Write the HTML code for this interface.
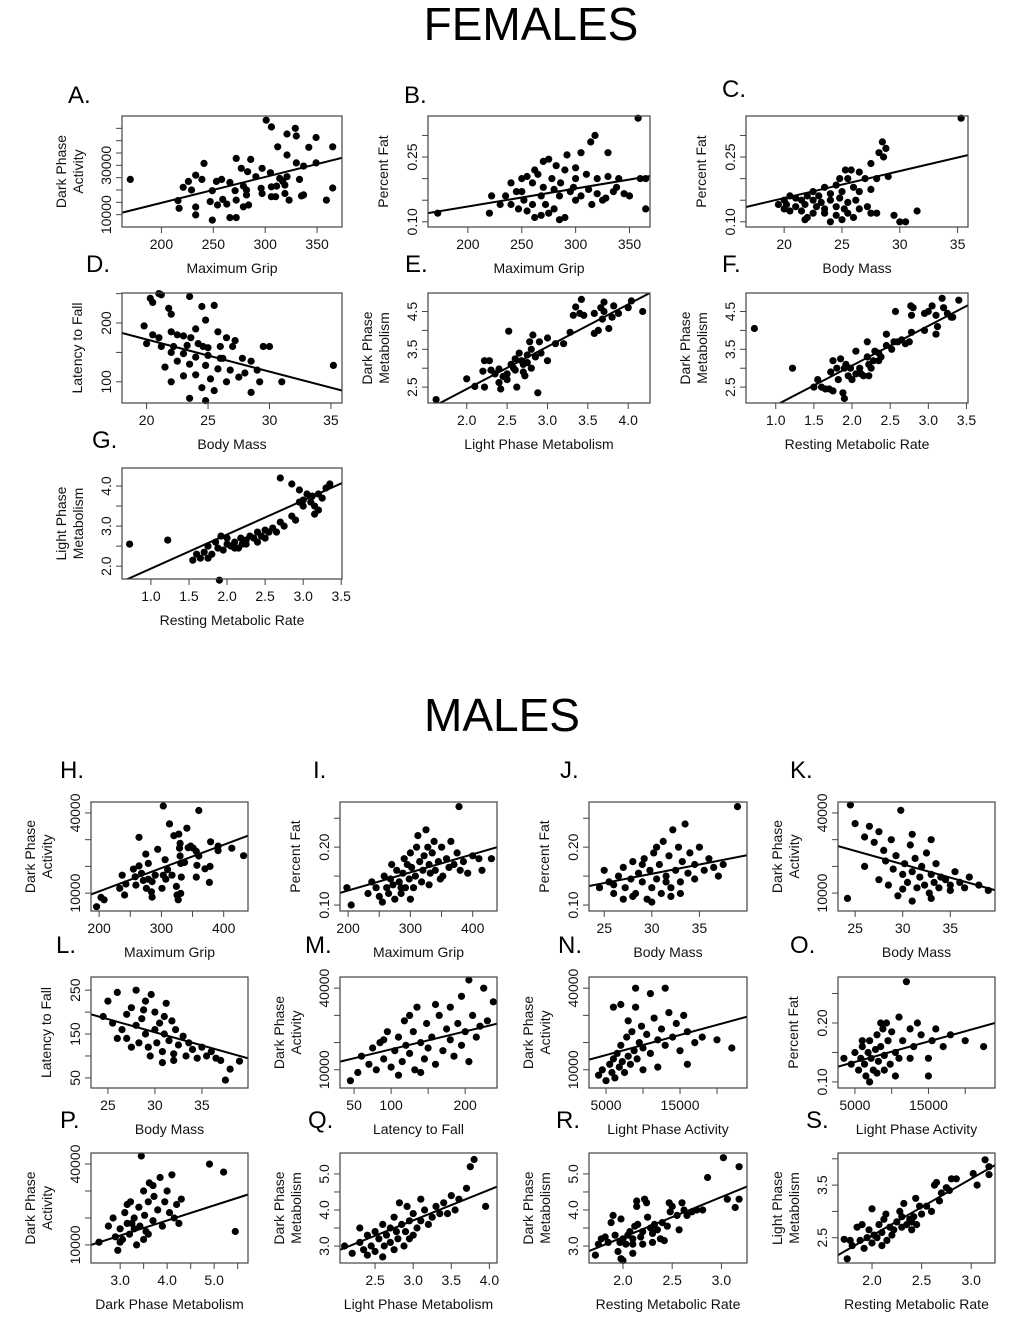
<!DOCTYPE html>
<html><head><meta charset="utf-8"><style>
html,body{margin:0;padding:0;background:#fff}
svg{display:block;font-family:"Liberation Sans",Arial,sans-serif}
</style></head><body>
<svg id="fig" width="1020" height="1330" viewBox="0 0 1020 1330" xmlns="http://www.w3.org/2000/svg">
<text x="531" y="40" font-size="46" text-anchor="middle">FEMALES</text>
<text x="502" y="731" font-size="46" text-anchor="middle">MALES</text>
</svg>
<script>
// ---- data ----
const ptsA=[[170,24300],[301,48300],[306,45600],[329,45000],[321,42700],[330,41900],[349,41300],[342,37300],[365,37500],[312,37500],[321,34200],[330,31000],[337,29700],[349,31000],[297,28800],[305,27000],[314,24700],[311,21600],[333,24300],[272,32800],[286,32400],[277,28800],[283,27400],[241,30800],[233,26000],[239,24300],[226,23500],[221,21100],[229,20000],[216,15700],[217,12600],[233,13100],[233,9900],[247,15300],[253,23500],[258,24300],[249,19700],[254,13900],[259,16200],[263,14300],[266,23100],[271,19700],[272,15900],[279,21600],[282,20000],[282,18000],[279,13200],[284,13900],[266,8800],[272,8800],[249,7800],[296,20700],[297,18600],[306,21300],[306,17300],[310,17300],[319,22000],[319,18600],[323,15900],[335,17600],[337,18000],[359,15900],[365,20800],[321,25400],[317,23500],[291,25400]];
const ptsB=[[172,0.12],[358,0.34],[318,0.30],[314,0.285],[305,0.26],[330,0.26],[292,0.255],[275,0.245],[270,0.24],[282,0.23],[290,0.22],[300,0.225],[262,0.22],[265,0.21],[255,0.205],[250,0.2],[240,0.19],[278,0.2],[300,0.2],[310,0.21],[320,0.2],[330,0.205],[340,0.2],[360,0.2],[365,0.2],[222,0.16],[230,0.14],[235,0.16],[245,0.17],[252,0.15],[260,0.14],[268,0.16],[272,0.14],[280,0.13],[285,0.16],[295,0.17],[305,0.16],[312,0.175],[320,0.165],[328,0.155],[335,0.17],[345,0.165],[350,0.16],[240,0.14],[247,0.13],[255,0.125],[262,0.11],[268,0.115],[275,0.12],[285,0.105],[290,0.11],[300,0.15],[315,0.14],[325,0.15],[365,0.13],[220,0.12],[260,0.19],[286,0.19],[298,0.18],[338,0.18],[270,0.18],[280,0.175],[250,0.17]];
const ptsC=[[35.3,0.34],[28.5,0.285],[28.8,0.27],[28.2,0.26],[28.6,0.25],[25.3,0.22],[25.8,0.22],[26.5,0.215],[27.5,0.235],[24.8,0.2],[25.5,0.2],[27,0.2],[28,0.2],[29,0.205],[23.5,0.18],[24.5,0.185],[26,0.18],[22.5,0.17],[23,0.16],[24,0.165],[25,0.17],[26.5,0.17],[27.5,0.175],[20,0.15],[20.5,0.16],[21,0.155],[21.5,0.15],[22,0.16],[22.5,0.15],[23.2,0.145],[24,0.15],[24.8,0.155],[25.5,0.145],[26.2,0.15],[19.5,0.14],[20.2,0.14],[21,0.135],[21.8,0.14],[22.8,0.135],[23.5,0.13],[24.5,0.135],[25.2,0.13],[26.5,0.13],[27.2,0.135],[20.5,0.125],[21.5,0.125],[22.5,0.12],[23.5,0.12],[24.5,0.115],[25.5,0.12],[26,0.11],[27.5,0.12],[28,0.12],[29.5,0.115],[31.5,0.125],[30,0.1],[30.5,0.1],[24,0.1],[22,0.11],[20,0.13],[21.8,0.105],[25,0.105]];
const ptsD=[[20.3,242],[21.2,248],[21,250],[20.5,235],[21.8,225],[22,215],[23.5,245],[24.5,228],[24.8,205],[25.5,230],[19.8,195],[20.5,180],[21,175],[22,185],[22.5,180],[23,178],[24,190],[25.8,185],[26.5,175],[27.2,170],[20,165],[21.2,160],[22.2,160],[23.3,162],[24.2,165],[25,158],[26,160],[27,160],[22,150],[23,148],[24,142],[25,145],[26.2,140],[27.8,140],[28.5,135],[29.5,160],[30,160],[22.5,135],[23.5,130],[24.8,128],[25.8,122],[26.8,120],[28,115],[29,120],[21.5,125],[23,110],[24,112],[25.2,105],[26.5,100],[27.5,108],[29.2,100],[31,100],[35.2,128],[24.5,90],[25.5,85],[23.5,72],[24.8,68],[28.5,82],[22,100],[26,140],[24.6,160],[23.6,175]];
const ptsE=[[1.62,2.17],[2.0,2.72],[2.1,2.52],[2.2,2.92],[2.22,3.2],[2.28,3.2],[2.22,2.5],[2.3,2.95],[2.35,2.85],[2.4,2.98],[2.42,2.45],[2.4,2.62],[2.45,2.78],[2.5,2.7],[2.5,2.85],[2.55,3.1],[2.52,3.98],[2.58,3.0],[2.6,3.25],[2.62,2.5],[2.65,3.4],[2.68,3.2],[2.7,2.9],[2.7,3.1],[2.72,2.8],[2.75,3.35],[2.78,3.7],[2.8,3.5],[2.82,3.88],[2.8,3.0],[2.85,3.3],[2.88,2.35],[2.9,3.7],[2.92,3.4],[3.0,3.2],[3.0,3.8],[3.1,3.65],[3.2,3.65],[3.28,3.95],[3.32,4.4],[3.35,4.62],[3.4,4.45],[3.42,4.82],[3.45,4.4],[3.58,4.45],[3.58,3.92],[3.63,4.0],[3.66,4.6],[3.68,4.3],[3.7,4.75],[3.7,4.5],[3.76,4.05],[3.8,4.35],[3.82,4.65],[3.88,4.45],[4.0,4.6],[4.04,4.78],[4.18,4.5],[2.6,2.95],[2.75,3.15]];
const ptsF=[[0.72,4.05],[1.22,3.0],[1.5,2.5],[1.55,2.7],[1.6,2.5],[1.65,2.45],[1.7,2.45],[1.75,2.4],[1.72,2.9],[1.75,3.2],[1.8,3.0],[1.82,2.7],[1.85,3.25],[1.88,2.35],[1.9,2.2],[1.9,3.0],[1.92,3.1],[1.95,2.8],[1.98,3.0],[2.0,2.7],[2.05,3.45],[2.05,2.85],[2.1,3.0],[2.12,2.85],[2.15,2.8],[2.2,3.7],[2.2,3.3],[2.22,2.8],[2.22,3.1],[2.25,3.0],[2.28,3.2],[2.3,3.45],[2.35,3.4],[2.38,3.3],[2.45,3.9],[2.45,3.6],[2.52,3.5],[2.55,3.7],[2.57,4.5],[2.65,3.75],[2.7,3.65],[2.75,3.7],[2.77,4.65],[2.78,4.4],[2.8,4.6],[2.78,3.95],[2.95,4.45],[2.95,4.0],[3.0,4.5],[3.05,4.65],[3.1,3.9],[3.1,4.4],[3.12,4.1],[3.18,4.85],[3.2,4.6],[3.25,4.45],[3.3,4.35],[3.32,4.35],[3.4,4.8],[2.35,3.2],[2.6,3.7]];
const ptsG=[[0.72,2.55],[1.22,2.65],[1.55,2.15],[1.6,2.3],[1.65,2.2],[1.7,2.35],[1.75,2.5],[1.8,2.3],[1.85,2.6],[1.88,2.45],[1.9,1.65],[1.92,2.75],[1.95,2.4],[2.0,2.55],[2.05,2.5],[2.1,2.6],[2.15,2.45],[2.18,2.7],[2.2,2.55],[2.25,2.65],[2.3,2.75],[2.35,2.7],[2.4,2.85],[2.45,2.75],[2.5,2.9],[2.55,2.85],[2.6,2.95],[2.65,2.85],[2.7,3.1],[2.75,3.0],[2.7,4.2],[2.85,3.25],[2.9,3.15],[2.95,3.6],[3.0,3.5],[3.0,3.65],[3.05,3.8],[3.1,3.6],[3.12,3.75],[3.15,3.5],[3.2,3.8],[3.25,3.7],[3.3,3.95],[3.35,4.05],[3.2,3.4],[3.15,3.3],[2.85,4.05],[2.95,3.9],[2.0,2.7],[2.25,2.55],[2.4,2.6],[2.5,2.7],[1.75,2.2],[2.1,2.45]];
const ptsH=[[196,4900],[203,8400],[208,7500],[233,11800],[243,13400],[237,16700],[241,9300],[255,19000],[264,20200],[264,30900],[258,16100],[259,13000],[268,17400],[271,14700],[275,24600],[279,21100],[276,11800],[284,10500],[285,14300],[285,8500],[294,26400],[290,16700],[301,11800],[303,16700],[303,42600],[306,22500],[307,15200],[310,18800],[313,35900],[317,16700],[320,31500],[324,12500],[325,9300],[328,32100],[330,28600],[329,26800],[330,23900],[331,21100],[332,16000],[331,9900],[327,7500],[337,21500],[341,34300],[343,27000],[347,27600],[351,26800],[356,25600],[357,20400],[360,23900],[356,16000],[360,40900],[370,19100],[378,20000],[379,29200],[377,14000],[391,27600],[391,25900],[413,26800],[432,24000],[279,15200]];
const ptsI=[[198,0.13],[205,0.10],[232,0.12],[238,0.14],[245,0.13],[250,0.115],[255,0.105],[258,0.15],[262,0.13],[265,0.12],[268,0.145],[270,0.17],[272,0.135],[275,0.11],[278,0.16],[282,0.14],[285,0.12],[288,0.155],[290,0.18],[292,0.13],[295,0.17],[298,0.145],[300,0.19],[302,0.165],[305,0.13],[308,0.15],[310,0.2],[312,0.22],[315,0.175],[318,0.14],[320,0.16],[322,0.185],[325,0.23],[328,0.2],[330,0.17],[332,0.155],[335,0.19],[338,0.21],[340,0.16],[345,0.175],[350,0.2],[352,0.15],[358,0.18],[362,0.165],[365,0.21],[370,0.17],[375,0.19],[378,0.27],[380,0.16],[385,0.175],[392,0.155],[400,0.185],[410,0.18],[415,0.16],[430,0.18],[300,0.11],[285,0.13],[330,0.135],[348,0.145]];
const ptsJ=[[39,0.27],[24.5,0.13],[25,0.16],[25.5,0.14],[26,0.12],[26.5,0.15],[27,0.165],[27.2,0.13],[27.8,0.145],[28,0.175],[28.3,0.12],[28.6,0.155],[29,0.14],[29.2,0.18],[29.5,0.11],[29.8,0.16],[30,0.13],[30.2,0.19],[30.5,0.145],[30.8,0.17],[31,0.12],[31.2,0.21],[31.5,0.15],[31.8,0.185],[32,0.13],[32.2,0.23],[32.5,0.16],[32.8,0.2],[33,0.14],[33.2,0.175],[33.5,0.24],[33.8,0.155],[34,0.19],[34.5,0.17],[35,0.2],[35.5,0.16],[36,0.18],[36.5,0.165],[37,0.15],[37.5,0.17],[28,0.115],[30,0.105],[32,0.115],[27,0.11],[31.5,0.14],[29,0.17],[33,0.12],[26,0.135],[34.5,0.145],[30.5,0.2]];
const ptsK=[[24.5,43000],[25,36000],[26,31000],[26.5,35000],[27,29000],[27.5,33000],[28,26000],[28.2,22000],[28.8,30000],[29,19000],[29.3,24000],[29.8,41000],[30,17000],[30.2,21000],[30.5,14000],[30.8,28000],[31,18000],[31.3,23000],[31.5,12000],[31.8,16000],[32,20000],[32.3,13000],[32.5,25000],[32.8,10000],[33,17000],[33.3,14000],[33.5,21000],[33.8,12000],[34,16000],[34.5,15000],[35,13000],[35.5,18000],[36,14000],[36.5,12000],[37,16000],[38,13000],[39,11000],[29.5,9000],[31,7000],[24.2,8000],[26,20000],[27.5,15000],[28.5,13000],[30,11500],[33,8000],[35,11000],[31,32000],[33,30000]];
const ptsL=[[24.5,190],[25,225],[25.5,175],[26,245],[26.5,160],[27,195],[27,140],[27.5,210],[28,170],[28,250],[28.3,130],[28.6,185],[29,150],[29,225],[29.3,120],[29.6,240],[30,160],[30,200],[30.2,130],[30.5,175],[30.8,110],[31,150],[31.2,220],[31.5,135],[31.8,180],[32,105],[32.2,160],[32.5,125],[33,145],[33.3,100],[33.6,130],[34,115],[34.5,95],[35,120],[35.5,100],[36,110],[36.5,95],[37,90],[38,70],[39,88],[26,140],[27.5,120],[29.5,100],[30.8,85],[32,90],[37.5,45],[31,190],[28.8,205]];
const ptsM=[[45,6000],[55,9000],[60,15000],[70,12000],[75,18000],[80,10000],[85,20000],[90,14000],[95,24000],[100,11000],[105,17000],[110,22000],[115,13000],[118,28000],[120,19000],[125,16000],[130,24000],[132,10000],[135,33000],[140,20000],[145,14000],[148,27000],[150,18000],[155,22000],[160,12000],[165,30000],[170,17000],[175,25000],[180,21000],[185,15000],[190,27000],[195,19000],[200,24000],[205,13000],[210,30000],[215,22000],[220,26000],[225,40000],[230,28000],[238,35000],[195,37000],[160,34000],[140,9000],[110,8000],[90,21000],[125,30000],[205,43000],[180,33000]];
const ptsN=[[4000,8000],[4500,10000],[5000,6000],[5500,12000],[5800,9000],[6000,14000],[6200,7000],[6500,16000],[6800,11000],[7000,19000],[7200,13000],[7500,9000],[7800,22000],[8000,15000],[8300,12000],[8500,24000],[8800,17000],[9000,33000],[9200,14000],[9500,20000],[9800,26000],[10000,18000],[10500,23000],[11000,16000],[11500,29000],[12000,21000],[12500,25000],[13000,19000],[13500,31000],[14000,22000],[14500,27000],[15000,17000],[15500,30000],[16000,24000],[17000,20000],[18000,22000],[20000,21000],[22000,18000],[7000,34000],[6000,33000],[9000,40000],[11000,38000],[13000,40000],[12000,11000],[10000,10000],[16000,12000],[8000,28000]];
const ptsO=[[3500,0.14],[4500,0.13],[5000,0.15],[5500,0.12],[5800,0.14],[6000,0.16],[6300,0.13],[6500,0.11],[6800,0.15],[7000,0.17],[7200,0.14],[7500,0.12],[7800,0.155],[8000,0.18],[8200,0.135],[8500,0.16],[8800,0.19],[9000,0.145],[9300,0.2],[9500,0.17],[9800,0.13],[10000,0.185],[10500,0.15],[11000,0.21],[11500,0.17],[12000,0.27],[12500,0.19],[13000,0.16],[13500,0.2],[14000,0.18],[15000,0.14],[15500,0.17],[16000,0.19],[17000,0.16],[18000,0.18],[20000,0.17],[22500,0.16],[7000,0.1],[9000,0.12],[10500,0.11],[15000,0.11],[6000,0.17],[8000,0.115],[11000,0.14],[12500,0.14],[8500,0.2]];
const ptsP=[[2.55,11000],[2.75,17000],[2.85,20000],[2.9,13000],[2.95,8000],[3.0,16000],[3.05,12000],[3.1,22000],[3.15,18000],[3.2,14000],[3.22,26000],[3.3,20000],[3.35,10000],[3.4,24000],[3.42,17000],[3.45,43000],[3.5,30000],[3.52,21000],[3.55,15000],[3.6,26000],[3.62,33000],[3.7,19000],[3.72,28000],[3.8,23000],[3.85,35000],[3.9,17000],[3.95,26000],[4.0,30000],[4.05,22000],[4.1,36000],[4.2,25000],[4.25,18000],[4.3,27000],[4.9,40000],[5.2,37000],[5.45,15000],[3.3,16000],[3.5,12000],[3.0,11000],[3.7,32000],[3.25,18000],[3.6,14000],[4.15,20000],[3.15,25000]];
const ptsQ=[[2.1,3.0],[2.2,2.8],[2.3,3.1],[2.35,2.9],[2.4,3.3],[2.45,3.0],[2.5,3.4],[2.5,2.85],[2.55,3.2],[2.6,3.6],[2.62,3.0],[2.65,3.3],[2.7,3.5],[2.7,3.1],[2.75,3.8],[2.78,3.4],[2.8,3.2],[2.82,4.2],[2.85,3.6],[2.88,3.0],[2.9,3.4],[2.92,4.1],[2.95,3.7],[3.0,3.3],[3.0,3.9],[3.05,3.5],[3.1,3.7],[3.15,4.0],[3.2,3.6],[3.25,3.8],[3.3,4.1],[3.35,3.9],[3.4,4.2],[3.5,4.4],[3.55,4.0],[3.6,4.3],[3.7,4.6],[3.75,5.2],[3.8,5.4],[3.95,4.1],[2.6,2.7],[2.4,2.75],[2.75,2.9],[2.3,3.5],[3.1,4.3],[2.95,3.2],[3.45,3.9]];
const ptsR=[[1.72,2.75],[1.75,3.05],[1.78,3.2],[1.82,3.25],[1.85,3.1],[1.88,3.65],[1.9,3.85],[1.92,3.3],[1.95,2.85],[1.97,3.1],[1.98,2.65],[1.98,3.75],[2.0,2.6],[2.0,3.2],[2.03,3.05],[2.05,3.3],[2.07,3.4],[2.1,2.8],[2.1,3.2],[2.12,3.55],[2.14,4.25],[2.14,4.1],[2.15,3.6],[2.18,3.25],[2.2,3.4],[2.2,3.05],[2.22,4.3],[2.24,4.2],[2.25,3.8],[2.28,3.5],[2.3,3.35],[2.32,3.6],[2.35,3.45],[2.38,3.2],[2.4,3.65],[2.42,3.15],[2.45,3.55],[2.47,4.2],[2.48,3.95],[2.5,4.1],[2.55,3.85],[2.57,3.45],[2.6,4.2],[2.62,4.0],[2.65,3.85],[2.7,3.95],[2.75,4.0],[2.81,4.0],[2.86,4.9],[3.02,5.45],[3.06,4.3],[3.14,4.07],[3.18,5.2],[3.18,4.3],[2.3,3.1],[2.1,3.05]];
const ptsS=[[1.72,2.47],[1.75,2.1],[1.78,2.45],[1.8,2.35],[1.85,2.7],[1.88,2.45],[1.9,2.75],[1.92,2.3],[1.95,2.5],[1.97,2.65],[2.0,3.05],[2.0,2.4],[2.02,2.55],[2.05,2.5],[2.07,2.75],[2.1,2.35],[2.1,2.6],[2.12,2.85],[2.14,2.95],[2.15,2.45],[2.18,2.7],[2.2,2.55],[2.22,2.65],[2.25,2.8],[2.28,3.0],[2.3,2.9],[2.32,3.15],[2.35,2.75],[2.38,2.85],[2.4,2.65],[2.42,2.9],[2.44,3.25],[2.45,2.75],[2.48,3.1],[2.5,2.95],[2.55,3.1],[2.6,3.0],[2.63,3.5],[2.65,3.55],[2.68,3.2],[2.7,3.35],[2.75,3.45],[2.78,3.4],[2.8,3.62],[2.85,3.62],[3.02,3.72],[3.06,3.5],[3.14,3.98],[3.18,3.85],[3.18,3.7],[2.3,2.7],[2.4,2.8]];
// regression fits [intercept, slope]
const fitA=[-6210,105], fitB=[0.052,0.000417], fitC=[0.030,0.00625], fitD=[281.5,-5.47], fitE=[0.21,1.12], fitF=[0.97,1.05], fitG=[1.09,0.85];
const fitH=[-6830,87.3], fitI=[0.0625,0.000313], fitJ=[0.058,0.0032], fitK=[50800,-1000], fitL=[334,-6], fitM=[10970,65.6], fitN=[11700,0.74], fitO=[0.1166,0.00000347], fitP=[-3330,5600], fitQ=[1.16,0.85], fitR=[1.015,1.115], fitS=[0.38,1.08];
// tick values and labels
const gripTicksF=[200,250,300,350], gripLabsF=['200','250','300','350'];
const actTicksF=[10000,15000,20000,25000,30000,35000,40000,45000], actLabsF=['10000','','','','30000','','',''];
const fatTicksF=[0.10,0.15,0.20,0.25,0.30], fatLabsF=['0.10','','','0.25',''];
const massTicksF=[20,25,30,35], massLabsF=['20','25','30','35'];
const latTicksF=[100,150,200,250], latLabsF=['100','','200',''];
const metTicksX=[2.0,2.5,3.0,3.5,4.0], metLabsX=['2.0','2.5','3.0','3.5','4.0'];
const metTicksY=[2.5,3.0,3.5,4.0,4.5], metLabsY=['2.5','','3.5','','4.5'];
const rmrTicksF=[1.0,1.5,2.0,2.5,3.0,3.5], rmrLabsF=['1.0','1.5','2.0','2.5','3.0','3.5'];
const lpmTicksG=[2.0,2.5,3.0,3.5,4.0], lpmLabsG=['2.0','','3.0','','4.0'];
const gripTicksM=[200,250,300,350,400], gripLabsM=['200','','300','','400'];
const actTicksM=[10000,20000,30000,40000], actLabsM=['10000','','','40000'];
const fatTicksM=[0.10,0.15,0.20,0.25], fatLabsM=['0.10','','0.20',''];
const massTicksM=[25,30,35], massLabsM=['25','30','35'];
const latTicksM=[50,100,150,200,250], latLabsM=['50','','150','','250'];
const latXTicks=[50,100,150,200], latXLabs=['50','100','','200'];
const lpaTicks=[5000,10000,15000,20000], lpaLabs=['5000','','15000',''];
const dpmTicks=[3.0,3.5,4.0,4.5,5.0,5.5], dpmLabs=['3.0','','4.0','','5.0',''];
const lpmTicksQ=[2.5,3.0,3.5,4.0], lpmLabsQ=['2.5','3.0','3.5','4.0'];
const dmTicksM=[3.0,3.5,4.0,4.5,5.0], dmLabsM=['3.0','','4.0','','5.0'];
const rmrTicksM=[2.0,2.5,3.0], rmrLabsM=['2.0','2.5','3.0'];
const lmTicksS=[2.5,3.0,3.5,4.0], lmLabsS=['2.5','','3.5',''];

// ---- layout (pixel geometry only) ----
const FC=[[122,342],[428,650],[746,968]], FR=[[116,227],[293,403],[468,579]];
const MC=[[91,248],[340,497],[589,747],[838,995]], MR=[[802,911],[977,1088],[1153,1263]];
const panels=[
 {id:'a',L:'A.',lp:[68,103],c:FC[0],r:FR[0],xd:[162,374],yd:[5000,50000],xt:gripTicksF,xl:gripLabsF,yt:actTicksF,yl:actLabsF,xT:'Maximum Grip',yT:['Dark Phase','Activity'],p:ptsA,f:fitA},
 {id:'b',L:'B.',lp:[404,103],c:FC[1],r:FR[0],xd:[163,369],yd:[0.088,0.345],xt:gripTicksF,xl:gripLabsF,yt:fatTicksF,yl:fatLabsF,xT:'Maximum Grip',yT:['Percent Fat'],p:ptsB,f:fitB},
 {id:'c',L:'C.',lp:[722,97],c:FC[2],r:FR[0],xd:[16.7,35.9],yd:[0.088,0.345],xt:massTicksF,xl:massLabsF,yt:fatTicksF,yl:fatLabsF,xT:'Body Mass',yT:['Percent Fat'],p:ptsC,f:fitC},
 {id:'d',L:'D.',lp:[86,272],c:FC[0],r:FR[1],xd:[18.0,35.9],yd:[64,251],xt:massTicksF,xl:massLabsF,yt:latTicksF,yl:latLabsF,xT:'Body Mass',yT:['Latency to Fall'],p:ptsD,f:fitD},
 {id:'e',L:'E.',lp:[405,272],c:FC[1],r:FR[1],xd:[1.52,4.27],yd:[2.08,4.99],xt:metTicksX,xl:metLabsX,yt:metTicksY,yl:metLabsY,xT:'Light Phase Metabolism',yT:['Dark Phase','Metabolism'],p:ptsE,f:fitE},
 {id:'f',L:'F.',lp:[722,272],c:FC[2],r:FR[1],xd:[0.61,3.52],yd:[2.08,4.99],xt:rmrTicksF,xl:rmrLabsF,yt:metTicksY,yl:metLabsY,xT:'Resting Metabolic Rate',yT:['Dark Phase','Metabolism'],p:ptsF,f:fitF},
 {id:'g',L:'G.',lp:[92,448],c:FC[0],r:FR[2],xd:[0.62,3.51],yd:[1.68,4.45],xt:rmrTicksF,xl:rmrLabsF,yt:lpmTicksG,yl:lpmLabsG,xT:'Resting Metabolic Rate',yT:['Light Phase','Metabolism'],p:ptsG,f:fitG},
 {id:'h',L:'H.',lp:[60,778],c:MC[0],r:MR[0],xd:[187,439],yd:[3300,44100],xt:gripTicksM,xl:gripLabsM,yt:actTicksM,yl:actLabsM,xT:'Maximum Grip',yT:['Dark Phase','Activity'],p:ptsH,f:fitH},
 {id:'i',L:'I.',lp:[313,778],c:MC[1],r:MR[0],xd:[187,439],yd:[0.0897,0.278],xt:gripTicksM,xl:gripLabsM,yt:fatTicksM,yl:fatLabsM,xT:'Maximum Grip',yT:['Percent Fat'],p:ptsI,f:fitI},
 {id:'j',L:'J.',lp:[560,778],c:MC[2],r:MR[0],xd:[23.4,40],yd:[0.0897,0.278],xt:massTicksM,xl:massLabsM,yt:fatTicksM,yl:fatLabsM,xT:'Body Mass',yT:['Percent Fat'],p:ptsJ,f:fitJ},
 {id:'k',L:'K.',lp:[790,778],c:MC[3],r:MR[0],xd:[23.2,39.7],yd:[3300,44100],xt:massTicksM,xl:massLabsM,yt:actTicksM,yl:actLabsM,xT:'Body Mass',yT:['Dark Phase','Activity'],p:ptsK,f:fitK},
 {id:'l',L:'L.',lp:[56,953],c:MC[0],r:MR[1],xd:[23.2,39.9],yd:[27,280],xt:massTicksM,xl:massLabsM,yt:latTicksM,yl:latLabsM,xT:'Body Mass',yT:['Latency to Fall'],p:ptsL,f:fitL},
 {id:'m',L:'M.',lp:[305,953],c:MC[1],r:MR[1],xd:[31,243],yd:[3300,44100],xt:latXTicks,xl:latXLabs,yt:actTicksM,yl:actLabsM,xT:'Latency to Fall',yT:['Dark Phase','Activity'],p:ptsM,f:fitM},
 {id:'n',L:'N.',lp:[558,953],c:MC[2],r:MR[1],xd:[2700,24050],yd:[3300,44100],xt:lpaTicks,xl:lpaLabs,yt:actTicksM,yl:actLabsM,xT:'Light Phase Activity',yT:['Dark Phase','Activity'],p:ptsN,f:fitN},
 {id:'o',L:'O.',lp:[790,953],c:MC[3],r:MR[1],xd:[2700,24050],yd:[0.0897,0.278],xt:lpaTicks,xl:lpaLabs,yt:fatTicksM,yl:fatLabsM,xT:'Light Phase Activity',yT:['Percent Fat'],p:ptsO,f:fitO},
 {id:'p',L:'P.',lp:[60,1128],c:MC[0],r:MR[2],xd:[2.38,5.72],yd:[3300,44100],xt:dpmTicks,xl:dpmLabs,yt:actTicksM,yl:actLabsM,xT:'Dark Phase Metabolism',yT:['Dark Phase','Activity'],p:ptsP,f:fitP},
 {id:'q',L:'Q.',lp:[308,1128],c:MC[1],r:MR[2],xd:[2.04,4.1],yd:[2.53,5.58],xt:lpmTicksQ,xl:lpmLabsQ,yt:dmTicksM,yl:dmLabsM,xT:'Light Phase Metabolism',yT:['Dark Phase','Metabolism'],p:ptsQ,f:fitQ},
 {id:'r',L:'R.',lp:[556,1128],c:MC[2],r:MR[2],xd:[1.655,3.26],yd:[2.53,5.58],xt:rmrTicksM,xl:rmrLabsM,yt:dmTicksM,yl:dmLabsM,xT:'Resting Metabolic Rate',yT:['Dark Phase','Metabolism'],p:ptsR,f:fitR},
 {id:'s',L:'S.',lp:[806,1128],c:MC[3],r:MR[2],xd:[1.657,3.24],yd:[2.02,4.11],xt:rmrTicksM,xl:rmrLabsM,yt:lmTicksS,yl:lmLabsS,xT:'Resting Metabolic Rate',yT:['Light Phase','Metabolism'],p:ptsS,f:fitS}
];
const NS='http://www.w3.org/2000/svg';
const svg=document.getElementById('fig');
function mk(tag,attrs,parent){const e=document.createElementNS(NS,tag);for(const k in attrs)e.setAttribute(k,attrs[k]);(parent||svg).appendChild(e);return e;}
panels.forEach(P=>{
  const [x0,x1]=P.c,[y0,y1]=P.r;
  const sx=v=>x0+(v-P.xd[0])/(P.xd[1]-P.xd[0])*(x1-x0);
  const sy=v=>y1-(v-P.yd[0])/(P.yd[1]-P.yd[0])*(y1-y0);
  const g=mk('g',{});
  
  
  const lab=mk('text',{x:P.lp[0],y:P.lp[1],'font-size':24},g);lab.textContent=P.L;
  
  
  const cp=mk('clipPath',{id:'clip'+P.id},g);mk('rect',{x:x0,y:y0,width:x1-x0,height:y1-y0},cp);
  // points
  const pg=mk('g',{},g);
  
  
  P.p.forEach(d=>{const c=mk('circle',{cx:sx(d[0]).toFixed(1),cy:sy(d[1]).toFixed(1),r:3.6,fill:'#000'},pg);
    
    });
  // fit line
  const xa=P.xd[0],xb=P.xd[1];
  const ln=mk('line',{x1:sx(xa),y1:sy(P.f[0]+P.f[1]*xa),x2:sx(xb),y2:sy(P.f[0]+P.f[1]*xb),stroke:'#000','stroke-width':2,'clip-path':'url(#clip'+P.id+')'},g);
  
  
  // box
  const bx=mk('rect',{x:x0,y:y0,width:x1-x0,height:y1-y0,fill:'none',stroke:'#444','stroke-width':1.2},g);
  
  
  // x ticks
  P.xt.forEach((v,i)=>{const X=sx(v);if(X<x0-1||X>x1+1)return;
    mk('line',{x1:X,y1:y1,x2:X,y2:y1+6,stroke:'#444','stroke-width':1},g);
    if(P.xl[i]){const t=mk('text',{x:X,y:y1+22,'font-size':14,'text-anchor':'middle',fill:'#111'},g);t.textContent=P.xl[i];
      
      }});
  // y ticks
  P.yt.forEach((v,i)=>{const Y=sy(v);if(Y<y0-1||Y>y1+1)return;
    mk('line',{x1:x0,y1:Y,x2:x0-6,y2:Y,stroke:'#444','stroke-width':1},g);
    if(P.yl[i]){const tx=x0-11;const t=mk('text',{x:tx,y:Y,'font-size':14,'text-anchor':'middle',fill:'#111',transform:'rotate(-90 '+tx+' '+Y+')'},g);t.textContent=P.yl[i];
      
      }});
  // titles
  const xt=mk('text',{x:(x0+x1)/2,y:y1+46,'font-size':14,'text-anchor':'middle',fill:'#111'},g);xt.textContent=P.xT;
  
  
  const yc=(y0+y1)/2;
  const offs=P.yT.length===2?[-56,-39]:[-40];
  P.yT.forEach((s,i)=>{const tx=x0+offs[i];const t=mk('text',{x:tx,y:yc,'font-size':14,'text-anchor':'middle',fill:'#111',transform:'rotate(-90 '+tx+' '+yc+')'},g);t.textContent=s;
    
    });
});
</script>
</body></html>
